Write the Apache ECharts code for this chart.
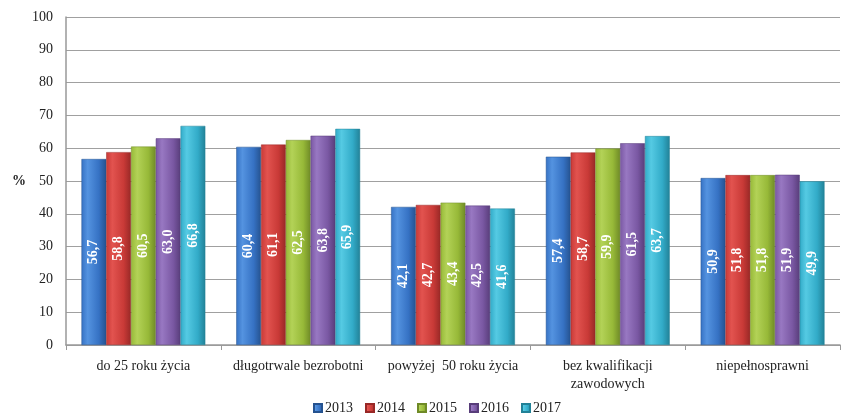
<!DOCTYPE html>
<html><head><meta charset="utf-8">
<script src="https://cdn.jsdelivr.net/npm/echarts@6/dist/echarts.min.js"></script>
<style>html,body{margin:0;padding:0;background:#fff}#c{width:843px;height:414px}</style>
</head><body><div id="c"></div>
<script>
const categories = ['do 25 roku życia', 'długotrwale bezrobotni', 'powyżej  50 roku życia', 'bez kwalifikacji\nzawodowych', 'niepełnosprawni'];
const years = ['2013', '2014', '2015', '2016', '2017'];
const v2013 = [56.7, 60.4, 42.1, 57.4, 50.9];
const v2014 = [58.8, 61.1, 42.7, 58.7, 51.8];
const v2015 = [60.5, 62.5, 43.4, 59.9, 51.8];
const v2016 = [63.0, 63.8, 42.5, 61.5, 51.9];
const v2017 = [66.8, 65.9, 41.6, 63.7, 49.9];
const yTicks = [0, 10, 20, 30, 40, 50, 60, 70, 80, 90, 100];

const seriesData = [v2013, v2014, v2015, v2016, v2017];
const palette = [
  ['#5493e0', '#3672c4', '#25528f'],
  ['#e2534f', '#c93a37', '#982826'],
  ['#b3d257', '#97b938', '#6f8a27'],
  ['#9878c2', '#7a58a3', '#583d7a'],
  ['#55cae3', '#32abc8', '#228197']
];
const serif = '"Liberation Serif", "DejaVu Serif", serif';
const chart = echarts.init(document.getElementById('c'));
chart.setOption({
  animation: false,
  textStyle: { fontFamily: serif },
  grid: { left: 66, right: 3, top: 17, bottom: 69, containLabel: false },
  legend: {
    top: 396, left: 308, itemWidth: 8, itemHeight: 8, itemGap: 12,
    icon: 'rect',
    textStyle: { fontFamily: serif, fontSize: 14, color: '#222', padding: [0, 0, 0, -2] },
    data: years
  },
  graphic: [{ type: 'text', left: 12, top: 174, style: { text: '%', font: 'bold 14px ' + serif, fill: '#222' } }],
  xAxis: {
    type: 'category', data: categories,
    axisLine: { lineStyle: { color: '#999', width: 1.5 } },
    axisTick: { show: true, length: 5, lineStyle: { color: '#999' } },
    axisLabel: { interval: 0, fontFamily: serif, fontSize: 14, color: '#222', margin: 12, lineHeight: 18 }
  },
  yAxis: {
    type: 'value', min: yTicks[0], max: yTicks[yTicks.length - 1], interval: 10,
    axisLine: { show: true, lineStyle: { color: '#999', width: 1.5 } },
    axisTick: { show: false },
    splitLine: { lineStyle: { color: '#a0a0a0', width: 1.2 } },
    axisLabel: { fontFamily: serif, fontSize: 14, color: '#222', margin: 13 }
  },
  series: years.map((y, i) => ({
    name: y, type: 'bar', data: seriesData[i],
    barGap: '0%', barCategoryGap: '20%',
    itemStyle: {
      color: new echarts.graphic.LinearGradient(0, 0, 1, 0, [
        { offset: 0, color: palette[i][1] },
        { offset: 0.25, color: palette[i][0] },
        { offset: 0.7, color: palette[i][1] },
        { offset: 1, color: palette[i][2] }
      ]),
      borderColor: palette[i][2], borderWidth: 0.5
    },
    label: {
      show: true, position: 'inside', rotate: 90,
      formatter: p => p.value.toFixed(1).replace('.', ','),
      fontFamily: serif, fontSize: 14, fontWeight: 'bold', color: '#fff'
    }
  }))
});
</script></body></html>
